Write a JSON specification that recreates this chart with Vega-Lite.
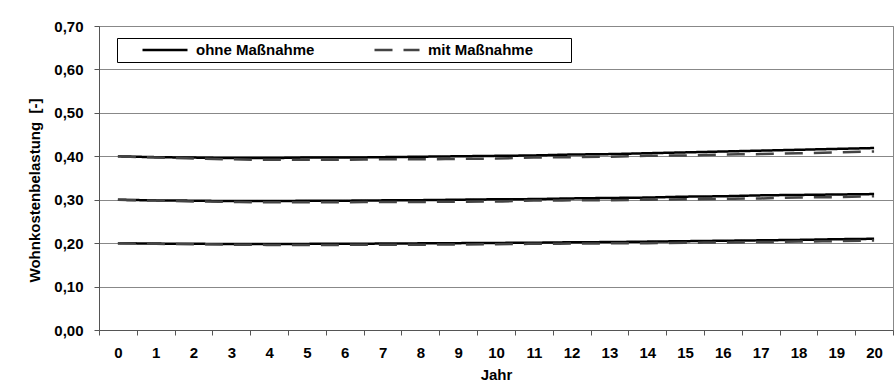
{
  "$schema": "https://vega.github.io/schema/vega-lite/v6.json",
  "width": 794,
  "height": 304,
  "autosize": "none",
  "padding": {"left": 99, "top": 26, "right": 2, "bottom": 60},
  "background": "#ffffff",
  "config": {
    "font": "Liberation Sans",
    "view": {"stroke": "#888888", "strokeWidth": 1},
    "axis": {
      "labelFont": "Liberation Sans",
      "labelFontSize": 15,
      "labelFontWeight": "bold",
      "labelColor": "#000000",
      "titleFont": "Liberation Sans",
      "titleFontSize": 15,
      "titleFontWeight": "bold",
      "titleColor": "#000000",
      "domainColor": "#555555",
      "tickColor": "#555555",
      "tickSize": 5
    },
    "legend": {
      "title": null,
      "orient": "none",
      "legendX": 18,
      "legendY": 12,
      "direction": "horizontal",
      "columns": 2,
      "strokeColor": "#000000",
      "fillColor": "#ffffff",
      "padding": 4,
      "clipHeight": 16,
      "symbolType": "stroke",
      "symbolSize": 2025,
      "symbolStrokeWidth": 2.5,
      "symbolOffset": 20,
      "labelFont": "Liberation Sans",
      "labelFontSize": 15,
      "labelFontWeight": "bold",
      "labelColor": "#000000",
      "labelOffset": 7,
      "columnPadding": 38
    }
  },
  "data": {
    "values": [
      {"Jahr": 0, "Variante": "ohne Maßnahme", "Stufe": "40", "Wert": 0.400},
      {"Jahr": 1, "Variante": "ohne Maßnahme", "Stufe": "40", "Wert": 0.398},
      {"Jahr": 2, "Variante": "ohne Maßnahme", "Stufe": "40", "Wert": 0.397},
      {"Jahr": 3, "Variante": "ohne Maßnahme", "Stufe": "40", "Wert": 0.396},
      {"Jahr": 4, "Variante": "ohne Maßnahme", "Stufe": "40", "Wert": 0.396},
      {"Jahr": 5, "Variante": "ohne Maßnahme", "Stufe": "40", "Wert": 0.397},
      {"Jahr": 6, "Variante": "ohne Maßnahme", "Stufe": "40", "Wert": 0.397},
      {"Jahr": 7, "Variante": "ohne Maßnahme", "Stufe": "40", "Wert": 0.398},
      {"Jahr": 8, "Variante": "ohne Maßnahme", "Stufe": "40", "Wert": 0.399},
      {"Jahr": 9, "Variante": "ohne Maßnahme", "Stufe": "40", "Wert": 0.400},
      {"Jahr": 10, "Variante": "ohne Maßnahme", "Stufe": "40", "Wert": 0.401},
      {"Jahr": 11, "Variante": "ohne Maßnahme", "Stufe": "40", "Wert": 0.402},
      {"Jahr": 12, "Variante": "ohne Maßnahme", "Stufe": "40", "Wert": 0.404},
      {"Jahr": 13, "Variante": "ohne Maßnahme", "Stufe": "40", "Wert": 0.405},
      {"Jahr": 14, "Variante": "ohne Maßnahme", "Stufe": "40", "Wert": 0.407},
      {"Jahr": 15, "Variante": "ohne Maßnahme", "Stufe": "40", "Wert": 0.409},
      {"Jahr": 16, "Variante": "ohne Maßnahme", "Stufe": "40", "Wert": 0.411},
      {"Jahr": 17, "Variante": "ohne Maßnahme", "Stufe": "40", "Wert": 0.413},
      {"Jahr": 18, "Variante": "ohne Maßnahme", "Stufe": "40", "Wert": 0.415},
      {"Jahr": 19, "Variante": "ohne Maßnahme", "Stufe": "40", "Wert": 0.417},
      {"Jahr": 20, "Variante": "ohne Maßnahme", "Stufe": "40", "Wert": 0.419},
      {"Jahr": 0, "Variante": "mit Maßnahme", "Stufe": "40", "Wert": 0.400},
      {"Jahr": 1, "Variante": "mit Maßnahme", "Stufe": "40", "Wert": 0.397},
      {"Jahr": 2, "Variante": "mit Maßnahme", "Stufe": "40", "Wert": 0.395},
      {"Jahr": 3, "Variante": "mit Maßnahme", "Stufe": "40", "Wert": 0.393},
      {"Jahr": 4, "Variante": "mit Maßnahme", "Stufe": "40", "Wert": 0.392},
      {"Jahr": 5, "Variante": "mit Maßnahme", "Stufe": "40", "Wert": 0.392},
      {"Jahr": 6, "Variante": "mit Maßnahme", "Stufe": "40", "Wert": 0.392},
      {"Jahr": 7, "Variante": "mit Maßnahme", "Stufe": "40", "Wert": 0.393},
      {"Jahr": 8, "Variante": "mit Maßnahme", "Stufe": "40", "Wert": 0.393},
      {"Jahr": 9, "Variante": "mit Maßnahme", "Stufe": "40", "Wert": 0.394},
      {"Jahr": 10, "Variante": "mit Maßnahme", "Stufe": "40", "Wert": 0.395},
      {"Jahr": 11, "Variante": "mit Maßnahme", "Stufe": "40", "Wert": 0.397},
      {"Jahr": 12, "Variante": "mit Maßnahme", "Stufe": "40", "Wert": 0.398},
      {"Jahr": 13, "Variante": "mit Maßnahme", "Stufe": "40", "Wert": 0.399},
      {"Jahr": 14, "Variante": "mit Maßnahme", "Stufe": "40", "Wert": 0.401},
      {"Jahr": 15, "Variante": "mit Maßnahme", "Stufe": "40", "Wert": 0.402},
      {"Jahr": 16, "Variante": "mit Maßnahme", "Stufe": "40", "Wert": 0.404},
      {"Jahr": 17, "Variante": "mit Maßnahme", "Stufe": "40", "Wert": 0.405},
      {"Jahr": 18, "Variante": "mit Maßnahme", "Stufe": "40", "Wert": 0.407},
      {"Jahr": 19, "Variante": "mit Maßnahme", "Stufe": "40", "Wert": 0.409},
      {"Jahr": 20, "Variante": "mit Maßnahme", "Stufe": "40", "Wert": 0.411},
      {"Jahr": 0, "Variante": "ohne Maßnahme", "Stufe": "30", "Wert": 0.300},
      {"Jahr": 1, "Variante": "ohne Maßnahme", "Stufe": "30", "Wert": 0.2985},
      {"Jahr": 2, "Variante": "ohne Maßnahme", "Stufe": "30", "Wert": 0.2978},
      {"Jahr": 3, "Variante": "ohne Maßnahme", "Stufe": "30", "Wert": 0.297},
      {"Jahr": 4, "Variante": "ohne Maßnahme", "Stufe": "30", "Wert": 0.297},
      {"Jahr": 5, "Variante": "ohne Maßnahme", "Stufe": "30", "Wert": 0.2975},
      {"Jahr": 6, "Variante": "ohne Maßnahme", "Stufe": "30", "Wert": 0.2978},
      {"Jahr": 7, "Variante": "ohne Maßnahme", "Stufe": "30", "Wert": 0.2985},
      {"Jahr": 8, "Variante": "ohne Maßnahme", "Stufe": "30", "Wert": 0.299},
      {"Jahr": 9, "Variante": "ohne Maßnahme", "Stufe": "30", "Wert": 0.300},
      {"Jahr": 10, "Variante": "ohne Maßnahme", "Stufe": "30", "Wert": 0.301},
      {"Jahr": 11, "Variante": "ohne Maßnahme", "Stufe": "30", "Wert": 0.3015},
      {"Jahr": 12, "Variante": "ohne Maßnahme", "Stufe": "30", "Wert": 0.303},
      {"Jahr": 13, "Variante": "ohne Maßnahme", "Stufe": "30", "Wert": 0.304},
      {"Jahr": 14, "Variante": "ohne Maßnahme", "Stufe": "30", "Wert": 0.305},
      {"Jahr": 15, "Variante": "ohne Maßnahme", "Stufe": "30", "Wert": 0.307},
      {"Jahr": 16, "Variante": "ohne Maßnahme", "Stufe": "30", "Wert": 0.308},
      {"Jahr": 17, "Variante": "ohne Maßnahme", "Stufe": "30", "Wert": 0.310},
      {"Jahr": 18, "Variante": "ohne Maßnahme", "Stufe": "30", "Wert": 0.311},
      {"Jahr": 19, "Variante": "ohne Maßnahme", "Stufe": "30", "Wert": 0.312},
      {"Jahr": 20, "Variante": "ohne Maßnahme", "Stufe": "30", "Wert": 0.313},
      {"Jahr": 0, "Variante": "mit Maßnahme", "Stufe": "30", "Wert": 0.300},
      {"Jahr": 1, "Variante": "mit Maßnahme", "Stufe": "30", "Wert": 0.298},
      {"Jahr": 2, "Variante": "mit Maßnahme", "Stufe": "30", "Wert": 0.296},
      {"Jahr": 3, "Variante": "mit Maßnahme", "Stufe": "30", "Wert": 0.295},
      {"Jahr": 4, "Variante": "mit Maßnahme", "Stufe": "30", "Wert": 0.294},
      {"Jahr": 5, "Variante": "mit Maßnahme", "Stufe": "30", "Wert": 0.294},
      {"Jahr": 6, "Variante": "mit Maßnahme", "Stufe": "30", "Wert": 0.294},
      {"Jahr": 7, "Variante": "mit Maßnahme", "Stufe": "30", "Wert": 0.295},
      {"Jahr": 8, "Variante": "mit Maßnahme", "Stufe": "30", "Wert": 0.295},
      {"Jahr": 9, "Variante": "mit Maßnahme", "Stufe": "30", "Wert": 0.2955},
      {"Jahr": 10, "Variante": "mit Maßnahme", "Stufe": "30", "Wert": 0.296},
      {"Jahr": 11, "Variante": "mit Maßnahme", "Stufe": "30", "Wert": 0.298},
      {"Jahr": 12, "Variante": "mit Maßnahme", "Stufe": "30", "Wert": 0.2985},
      {"Jahr": 13, "Variante": "mit Maßnahme", "Stufe": "30", "Wert": 0.299},
      {"Jahr": 14, "Variante": "mit Maßnahme", "Stufe": "30", "Wert": 0.300},
      {"Jahr": 15, "Variante": "mit Maßnahme", "Stufe": "30", "Wert": 0.301},
      {"Jahr": 16, "Variante": "mit Maßnahme", "Stufe": "30", "Wert": 0.302},
      {"Jahr": 17, "Variante": "mit Maßnahme", "Stufe": "30", "Wert": 0.303},
      {"Jahr": 18, "Variante": "mit Maßnahme", "Stufe": "30", "Wert": 0.305},
      {"Jahr": 19, "Variante": "mit Maßnahme", "Stufe": "30", "Wert": 0.306},
      {"Jahr": 20, "Variante": "mit Maßnahme", "Stufe": "30", "Wert": 0.308},
      {"Jahr": 0, "Variante": "ohne Maßnahme", "Stufe": "20", "Wert": 0.200},
      {"Jahr": 1, "Variante": "ohne Maßnahme", "Stufe": "20", "Wert": 0.199},
      {"Jahr": 2, "Variante": "ohne Maßnahme", "Stufe": "20", "Wert": 0.1985},
      {"Jahr": 3, "Variante": "ohne Maßnahme", "Stufe": "20", "Wert": 0.198},
      {"Jahr": 4, "Variante": "ohne Maßnahme", "Stufe": "20", "Wert": 0.198},
      {"Jahr": 5, "Variante": "ohne Maßnahme", "Stufe": "20", "Wert": 0.1983},
      {"Jahr": 6, "Variante": "ohne Maßnahme", "Stufe": "20", "Wert": 0.1985},
      {"Jahr": 7, "Variante": "ohne Maßnahme", "Stufe": "20", "Wert": 0.199},
      {"Jahr": 8, "Variante": "ohne Maßnahme", "Stufe": "20", "Wert": 0.1995},
      {"Jahr": 9, "Variante": "ohne Maßnahme", "Stufe": "20", "Wert": 0.200},
      {"Jahr": 10, "Variante": "ohne Maßnahme", "Stufe": "20", "Wert": 0.2005},
      {"Jahr": 11, "Variante": "ohne Maßnahme", "Stufe": "20", "Wert": 0.201},
      {"Jahr": 12, "Variante": "ohne Maßnahme", "Stufe": "20", "Wert": 0.202},
      {"Jahr": 13, "Variante": "ohne Maßnahme", "Stufe": "20", "Wert": 0.2025},
      {"Jahr": 14, "Variante": "ohne Maßnahme", "Stufe": "20", "Wert": 0.2035},
      {"Jahr": 15, "Variante": "ohne Maßnahme", "Stufe": "20", "Wert": 0.2045},
      {"Jahr": 16, "Variante": "ohne Maßnahme", "Stufe": "20", "Wert": 0.2055},
      {"Jahr": 17, "Variante": "ohne Maßnahme", "Stufe": "20", "Wert": 0.2065},
      {"Jahr": 18, "Variante": "ohne Maßnahme", "Stufe": "20", "Wert": 0.2075},
      {"Jahr": 19, "Variante": "ohne Maßnahme", "Stufe": "20", "Wert": 0.209},
      {"Jahr": 20, "Variante": "ohne Maßnahme", "Stufe": "20", "Wert": 0.210},
      {"Jahr": 0, "Variante": "mit Maßnahme", "Stufe": "20", "Wert": 0.200},
      {"Jahr": 1, "Variante": "mit Maßnahme", "Stufe": "20", "Wert": 0.1985},
      {"Jahr": 2, "Variante": "mit Maßnahme", "Stufe": "20", "Wert": 0.1975},
      {"Jahr": 3, "Variante": "mit Maßnahme", "Stufe": "20", "Wert": 0.1965},
      {"Jahr": 4, "Variante": "mit Maßnahme", "Stufe": "20", "Wert": 0.196},
      {"Jahr": 5, "Variante": "mit Maßnahme", "Stufe": "20", "Wert": 0.196},
      {"Jahr": 6, "Variante": "mit Maßnahme", "Stufe": "20", "Wert": 0.196},
      {"Jahr": 7, "Variante": "mit Maßnahme", "Stufe": "20", "Wert": 0.1965},
      {"Jahr": 8, "Variante": "mit Maßnahme", "Stufe": "20", "Wert": 0.1965},
      {"Jahr": 9, "Variante": "mit Maßnahme", "Stufe": "20", "Wert": 0.197},
      {"Jahr": 10, "Variante": "mit Maßnahme", "Stufe": "20", "Wert": 0.1975},
      {"Jahr": 11, "Variante": "mit Maßnahme", "Stufe": "20", "Wert": 0.1985},
      {"Jahr": 12, "Variante": "mit Maßnahme", "Stufe": "20", "Wert": 0.199},
      {"Jahr": 13, "Variante": "mit Maßnahme", "Stufe": "20", "Wert": 0.1995},
      {"Jahr": 14, "Variante": "mit Maßnahme", "Stufe": "20", "Wert": 0.200},
      {"Jahr": 15, "Variante": "mit Maßnahme", "Stufe": "20", "Wert": 0.201},
      {"Jahr": 16, "Variante": "mit Maßnahme", "Stufe": "20", "Wert": 0.2015},
      {"Jahr": 17, "Variante": "mit Maßnahme", "Stufe": "20", "Wert": 0.2025},
      {"Jahr": 18, "Variante": "mit Maßnahme", "Stufe": "20", "Wert": 0.2035},
      {"Jahr": 19, "Variante": "mit Maßnahme", "Stufe": "20", "Wert": 0.2045},
      {"Jahr": 20, "Variante": "mit Maßnahme", "Stufe": "20", "Wert": 0.206}
    ]
  },
  "mark": {"type": "line", "strokeWidth": 2.5, "interpolate": "monotone"},
  "encoding": {
    "x": {
      "field": "Jahr",
      "type": "ordinal",
      "bandPosition": 0.5,
      "scale": {"type": "band", "paddingInner": 0, "paddingOuter": 0},
      "axis": {
        "title": "Jahr",
        "labelAngle": 0,
        "tickBand": "extent",
        "grid": false,
        "labelPadding": 10,
        "titlePadding": 7
      }
    },
    "y": {
      "field": "Wert",
      "type": "quantitative",
      "scale": {"domain": [0, 0.7], "nice": false, "zero": true},
      "axis": {
        "title": "Wohnkostenbelastung\u00a0\u00a0[-]",
        "titleY": 164,
        "values": [0, 0.1, 0.2, 0.3, 0.4, 0.5, 0.6, 0.7],
        "labelExpr": "replace(format(datum.value, '.2f'), '.', ',')",
        "grid": true,
        "gridColor": "#888888",
        "gridWidth": 1,
        "labelPadding": 11,
        "titlePadding": 11
      }
    },
    "detail": {"field": "Stufe"},
    "color": {
      "field": "Variante",
      "type": "nominal",
      "scale": {"domain": ["ohne Maßnahme", "mit Maßnahme"], "range": ["#000000", "#444444"]},
      "legend": {"title": " ", "titleOrient": "right", "titlePadding": 34, "gridAlign": "all"}
    },
    "strokeDash": {
      "field": "Variante",
      "type": "nominal",
      "scale": {"domain": ["ohne Maßnahme", "mit Maßnahme"], "range": [[1, 0], [18, 11]]},
      "legend": {"title": " ", "titleOrient": "right", "titlePadding": 34, "gridAlign": "all"}
    }
  }
}
